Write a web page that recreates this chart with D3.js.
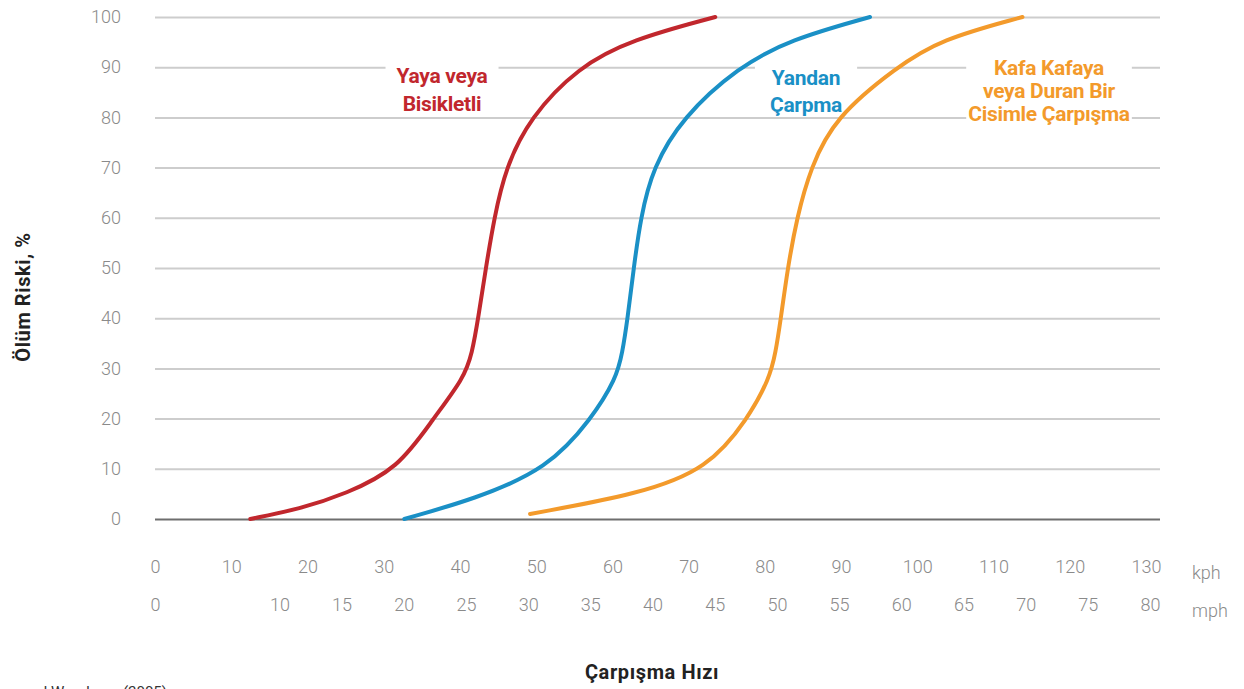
<!DOCTYPE html>
<html>
<head>
<meta charset="utf-8">
<script src="https://cdn.jsdelivr.net/npm/d3@7"></script>
<style>
  body { margin: 0; background: #fff; overflow: hidden; }
  svg { display: block; font-family: Roboto, "Noto Sans", sans-serif; }
</style>
</head>
<body>
<div class="risk-figure"></div>
<script>
const w = 1244;
const h = 689;

// risk (%) vs impact speed (kph)
const pedestrian = [[12.5,0],[19,2],[25,5],[31.9,10],[36.5,20],[40.5,28],[41.6,33],[42.4,40],[43.4,50],[44.5,60],[46,70],[49.2,80],[55.5,90],[62.5,95.5],[73.5,100]];
const sideImpact = [[32.7,0],[42,4],[51.5,10],[57.3,20],[60.5,28],[61.3,33],[62,40],[62.8,50],[63.7,60],[65.3,70],[69.2,80],[76.5,90],[83.3,95.5],[93.8,100]];
const headOn = [[49.2,1],[63.6,5],[72.5,10],[77.8,20],[80.6,28],[81.4,33],[82.1,40],[83,50],[84.2,60],[86,70],[89.2,80],[97.3,90],[103,95.5],[113.8,100]];

const yTicks = [0,10,20,30,40,50,60,70,80,90,100];
const kphTicks = [0,10,20,30,40,50,60,70,80,90,100,110,120,130];
const mphTicks = [0,10,15,20,25,30,35,40,45,50,55,60,65,70,75,80];

const series = [
  { name: "pedestrian", data: pedestrian, color: "#c1272d", label: ["Yaya veya", "Bisikletli"] },
  { name: "side", data: sideImpact, color: "#1a90c6", label: ["Yandan", "Çarpma"] },
  { name: "headon", data: headOn, color: "#f39a2b", label: ["Kafa Kafaya", "veya Duran Bir", "Cisimle Çarpışma"] }
];

// label placement (centre x, first baseline, line step, white padding)
const labelPos = {
  pedestrian: { x: 442, y: 83, dy: 28, pad: 11 },
  side: { x: 806, y: 85, dy: 27, pad: 15 },
  headon: { x: 1049, y: 75, dy: 23, pad: 2 }
};

const tickFont = sel => sel
  .attr("fill", "#8a8a8a")
  .style("font-size", "18px")
  .style("font-weight", 300)
  .style("font-family", "Roboto, sans-serif");

let svg = d3.select(".risk-figure")
  .append("svg")
  .attr("width", w)
  .attr("height", h);

let y = d3.scaleLinear().domain([0, 100]).range([519, 17]);
let kph = d3.scaleLinear().domain([0, 130]).range([155, 1146]);
let mph = d3.scaleLinear().domain([0, 80]).range([155, 1150]);

const gridLeft = 155, gridRight = 1160;

// y axis with gridlines
let yAxis = svg.append("g")
  .attr("transform", `translate(${gridLeft},0)`)
  .call(d3.axisLeft(y).tickValues(yTicks).tickSize(-(gridRight - gridLeft)).tickPadding(34));
yAxis.select(".domain").remove();
yAxis.selectAll(".tick line")
  .attr("stroke", d => d === 0 ? "#6e6e6e" : "#cdcdcd")
  .attr("stroke-width", 2);
yAxis.selectAll(".tick text").call(tickFont);

// kph row
let kAxis = svg.append("g")
  .attr("transform", "translate(0,560)")
  .call(d3.axisBottom(kph).tickValues(kphTicks).tickSize(0).tickPadding(0));
kAxis.select(".domain").remove();
kAxis.selectAll(".tick text").call(tickFont);

// mph row
let mAxis = svg.append("g")
  .attr("transform", "translate(0,598)")
  .call(d3.axisBottom(mph).tickValues(mphTicks).tickSize(0).tickPadding(0));
mAxis.select(".domain").remove();
mAxis.selectAll(".tick text").call(tickFont);

svg.append("text").attr("x", 1192).attr("y", 579).text("kph").call(tickFont);
svg.append("text").attr("x", 1192).attr("y", 617).text("mph").call(tickFont);

// axis titles
svg.append("text")
  .attr("transform", "translate(30,297) rotate(-90)")
  .attr("text-anchor", "middle")
  .attr("fill", "#222")
  .style("font-size", "20px")
  .style("font-weight", 700)
  .style("letter-spacing", "0.6px")
  .text("Ölüm Riski, %");

svg.append("text")
  .attr("x", 652).attr("y", 679)
  .attr("text-anchor", "middle")
  .attr("fill", "#222")
  .style("font-size", "20px")
  .style("font-weight", 700)
  .style("letter-spacing", "0.6px")
  .text("Çarpışma Hızı");

// source line, cut at the bottom edge like the original
svg.append("text")
  .attr("x", 167).attr("y", 697)
  .attr("text-anchor", "end")
  .attr("fill", "#333")
  .style("font-size", "15px")
  .text("and Woodman (2005)");

// labels with white boxes that break the gridlines
series.forEach(s => {
  let p = labelPos[s.name];
  let g = svg.append("g");
  let bg = g.append("rect").attr("fill", "#fff");
  let t = g.append("text")
    .attr("text-anchor", "middle")
    .attr("fill", s.color)
    .style("font-size", "21px")
    .style("font-weight", 700)
    .style("letter-spacing", "-0.3px");
  s.label.forEach((line, i) => {
    t.append("tspan").attr("x", p.x).attr("y", p.y + i * p.dy).text(line);
  });
  let b = t.node().getBBox();
  bg.attr("x", b.x - p.pad).attr("y", b.y).attr("width", b.width + 2 * p.pad).attr("height", b.height);
});

// curves
let line = d3.line()
  .x(d => kph(d[0]))
  .y(d => y(d[1]))
  .curve(d3.curveBasis);

svg.selectAll(".curve")
  .data(series)
  .enter()
  .append("path")
  .attr("class", "curve")
  .attr("d", d => line(d.data))
  .attr("fill", "none")
  .attr("stroke", d => d.color)
  .attr("stroke-width", 4)
  .attr("stroke-linecap", "round");
</script>
</body>
</html>
